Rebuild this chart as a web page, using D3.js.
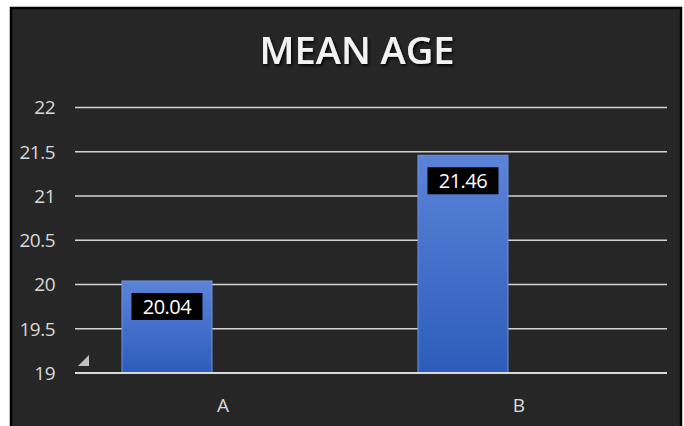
<!DOCTYPE html>
<html>
<head>
<meta charset="utf-8">
<script src="https://cdn.jsdelivr.net/npm/d3@7"></script>
<style>
  html, body { margin: 0; padding: 0; background: #ffffff; }
  svg { display: block; font-family: "Open Sans", "Noto Sans", sans-serif; }
</style>
</head>
<body>
<div id="chart"></div>
<script>
const categories = ['A', 'B'];
const series = ['Mean age', 'Empty'];
const meanAge = [20.04, 21.46];
const yTicks = [19, 19.5, 20, 20.5, 21, 21.5, 22];
const yTickLabels = ['19', '19.5', '20', '20.5', '21', '21.5', '22'];
const title = 'MEAN AGE';

const config = {
    width: 684,
    height: 426,
    panelLeft: 11,
    panelTop: 8,
    panelRight: 681,
    plotLeft: 75,
    plotRight: 667,
    plotTop: 107.5,
    plotBottom: 373
};

const svg = d3.select('#chart')
    .append('svg')
    .attr('width', config.width)
    .attr('height', config.height);

const defs = svg.append('defs');

const grad = defs.append('linearGradient')
    .attr('id', 'barGrad')
    .attr('x1', 0).attr('y1', 0)
    .attr('x2', 0).attr('y2', 1);
grad.append('stop').attr('offset', '0%').attr('stop-color', '#5b84d8');
grad.append('stop').attr('offset', '100%').attr('stop-color', '#2c5cbb');

const shadow = defs.append('filter')
    .attr('id', 'shadow')
    .attr('x', '-10%').attr('y', '-20%')
    .attr('width', '120%').attr('height', '150%');
shadow.append('feDropShadow')
    .attr('dx', 1.5).attr('dy', 2)
    .attr('stdDeviation', 1.5)
    .attr('flood-color', '#000')
    .attr('flood-opacity', 0.9);

// dark panel with black border
svg.append('rect')
    .attr('x', config.panelLeft)
    .attr('y', config.panelTop)
    .attr('width', config.panelRight - config.panelLeft)
    .attr('height', config.height - config.panelTop + 2)
    .attr('fill', '#262626')
    .attr('stroke', '#000')
    .attr('stroke-width', 2.5);

const xScale = d3.scaleBand()
    .domain(categories)
    .range([config.plotLeft, config.plotRight])
    .paddingInner(0)
    .paddingOuter(0);

const xInner = d3.scaleBand()
    .domain(series)
    .range([0, xScale.bandwidth()])
    .paddingInner(0)
    .paddingOuter(0.644)
    .align(0.405);

const yScale = d3.scaleLinear()
    .domain([19, 22])
    .range([config.plotBottom, config.plotTop]);

// gridlines
svg.append('g')
    .selectAll('line')
    .data(yTicks.slice(1))
    .join('line')
    .attr('x1', config.plotLeft)
    .attr('x2', config.plotRight)
    .attr('y1', d => yScale(d))
    .attr('y2', d => yScale(d))
    .attr('stroke', '#d4d4d4')
    .attr('stroke-width', 1.5);

// y labels
svg.append('g')
    .selectAll('text')
    .data(yTicks)
    .join('text')
    .attr('x', 55)
    .attr('y', d => yScale(d))
    .attr('dy', '0.36em')
    .attr('text-anchor', 'end')
    .attr('fill', '#d9d9d9')
    .attr('font-size', '19px')
    .attr('letter-spacing', '-0.5px')
    .text((d, i) => yTickLabels[i]);

// bars
const bars = svg.append('g')
    .selectAll('g')
    .data(categories.map((c, i) => ({ cat: c, value: meanAge[i] })))
    .join('g');

bars.append('rect')
    .attr('x', d => xScale(d.cat) + xInner(series[0]))
    .attr('y', d => yScale(d.value))
    .attr('width', xInner.bandwidth())
    .attr('height', d => yScale(19) - yScale(d.value))
    .attr('fill', 'url(#barGrad)')
    .attr('stroke', '#6f95e0')
    .attr('stroke-width', 1);

// data labels
bars.append('rect')
    .attr('x', d => xScale(d.cat) + xInner(series[0]) + xInner.bandwidth() / 2 - 35.5)
    .attr('y', d => yScale(d.value) + 12)
    .attr('width', 71)
    .attr('height', 27)
    .attr('fill', '#000');

bars.append('text')
    .attr('x', d => xScale(d.cat) + xInner(series[0]) + xInner.bandwidth() / 2)
    .attr('y', d => yScale(d.value) + 25.5)
    .attr('dy', '0.36em')
    .attr('text-anchor', 'middle')
    .attr('fill', '#ffffff')
    .attr('font-size', '20px')
    .attr('letter-spacing', '-0.5px')
    .text(d => d.value.toFixed(2));

// baseline axis
svg.append('line')
    .attr('x1', config.plotLeft)
    .attr('x2', config.plotRight)
    .attr('y1', yScale(19))
    .attr('y2', yScale(19))
    .attr('stroke', '#d9d9d9')
    .attr('stroke-width', 2);

// category labels
svg.append('g')
    .selectAll('text')
    .data(categories)
    .join('text')
    .attr('x', d => xScale(d) + xScale.bandwidth() / 2)
    .attr('y', 405)
    .attr('dy', '0.36em')
    .attr('text-anchor', 'middle')
    .attr('fill', '#d9d9d9')
    .attr('font-size', '19px')
    .text(d => d);

// small corner marker
svg.append('path')
    .attr('d', `M${config.plotLeft + 3},${config.plotBottom - 7} L${config.plotLeft + 14},${config.plotBottom - 7} L${config.plotLeft + 14},${config.plotBottom - 18} Z`)
    .attr('fill', '#bfbfbf');

// title
svg.append('text')
    .attr('x', 357)
    .attr('y', 64)
    .attr('text-anchor', 'middle')
    .attr('fill', '#f2f2f2')
    .attr('font-size', '38px')
    .attr('font-weight', 600)
    .attr('filter', 'url(#shadow)')
    .text(title);
</script>
</body>
</html>
